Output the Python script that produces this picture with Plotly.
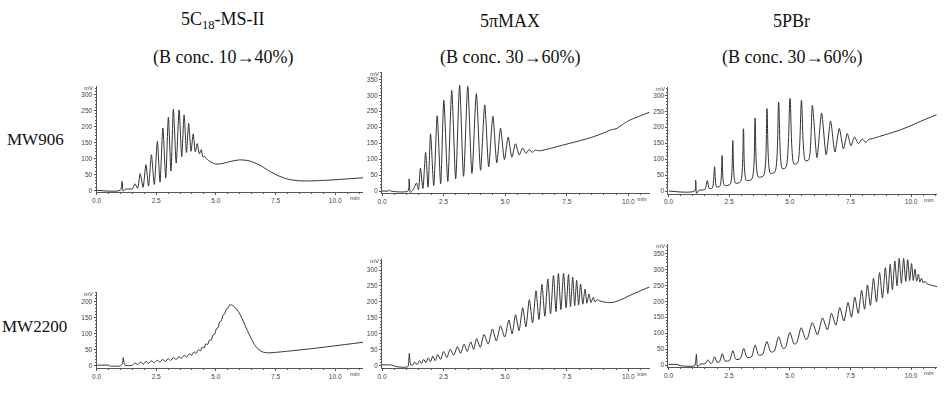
import plotly.graph_objects as go

# ---------------- DATA ----------------
col_titles = ["5C<sub>18</sub>-MS-II", "5πMAX", "5PBr"]
col_sub = ["(B conc. 10→40%)", "(B conc. 30→60%)", "(B conc. 30→60%)"]
row_labels = ["MW906", "MW2200"]
x_tickvals = [0, 2.5, 5, 7.5, 10]
x_ticktext = ["0.0", "2.5", "5.0", "7.5", "10.0"]

# --- MW906 / 5C18-MS-II ---
c18_906_pre_t = [0, 1.00, 1.07, 1.12, 1.20, 1.40]
c18_906_pre_mv = [0, 0, 28, -3, 3, 4]
c18_906_peak_t = [1.61, 1.83, 2.07, 2.30, 2.55, 2.78, 3.01, 3.22, 3.46, 3.67, 3.86, 4.05, 4.22, 4.39, 4.53]
c18_906_peak_mv = [20, 52, 80, 111, 153, 195, 229, 254, 252, 236, 210, 176, 146, 127, 106]
c18_906_val_t = [1.50, 1.72, 1.95, 2.18, 2.42, 2.66, 2.90, 3.12, 3.34, 3.57, 3.77, 3.96, 4.14, 4.31, 4.46]
c18_906_val_mv = [4, 6, 9, 13, 18, 25, 38, 60, 85, 105, 118, 122, 120, 114, 104]
c18_906_post_t = [4.62, 4.8, 5.0, 5.3, 5.6, 6.0, 6.4, 6.8, 7.2, 7.6, 8.0, 8.4, 8.8, 9.6, 10.4, 11.17]
c18_906_post_mv = [98, 88, 82, 84, 90, 95, 92, 80, 62, 46, 35, 30, 29, 31, 35, 39]

# --- MW906 / 5piMAX ---
pi_906_pre_t = [0, 0.25, 0.30, 0.35, 1.05, 1.10, 1.15, 1.25]
pi_906_pre_mv = [0, 0, 3, 0, 0, 38, -4, 2]
pi_906_peak_t = [1.40, 1.56, 1.77, 1.97, 2.24, 2.51, 2.83, 3.15, 3.48, 3.83, 4.17, 4.50, 4.81, 5.12, 5.42, 5.71, 5.97, 6.22]
pi_906_peak_mv = [25, 72, 121, 179, 236, 284, 315, 331, 328, 305, 270, 234, 197, 169, 148, 135, 130, 128]
pi_906_val_t = [1.48, 1.66, 1.87, 2.10, 2.38, 2.67, 2.99, 3.31, 3.65, 4.00, 4.33, 4.66, 4.97, 5.27, 5.57, 5.84, 6.10]
pi_906_val_mv = [4, 8, 12, 17, 23, 30, 38, 46, 55, 65, 76, 88, 98, 106, 113, 118, 121]
pi_906_post_t = [6.4, 6.8, 7.2, 7.6, 8.0, 8.5, 9.0, 9.3, 9.5, 9.7, 10.0, 10.4, 10.86]
pi_906_post_mv = [126, 133, 141, 149, 157, 168, 182, 192, 195, 205, 220, 233, 247]

# --- MW906 / 5PBr ---
pbr_906_pre_t = [0, 1.08, 1.12, 1.16, 1.25]
pbr_906_pre_mv = [0, 0, 34, -8, 2]
pbr_906_peak_t = [1.60, 1.90, 2.21, 2.65, 3.09, 3.57, 4.06, 4.54, 5.01, 5.48, 5.93, 6.31, 6.68, 7.04, 7.37, 7.67, 7.98, 8.25]
pbr_906_peak_mv = [33, 76, 111, 158, 195, 229, 258, 279, 290, 284, 268, 244, 219, 196, 180, 169, 163, 161]
pbr_906_val_t = [1.50, 1.68, 1.81, 1.98, 2.12, 2.30, 2.54, 2.76, 2.97, 3.21, 3.44, 3.70, 3.92, 4.20,
                 4.39, 4.69, 4.84, 5.17, 5.32, 5.64, 5.78, 6.12, 6.50, 6.86, 7.21, 7.52, 7.83, 8.12]
pbr_906_val_mv = [5, 8, 10, 13, 15, 18, 21, 25, 29, 33, 38, 44, 48, 55,
                  60, 70, 74, 85, 88, 95, 98, 105, 113, 122, 132, 142, 148, 153]
pbr_906_post_t = [8.45, 8.7, 9.0, 9.5, 10.0, 10.5, 11.05]
pbr_906_post_mv = [165, 171, 178, 190, 205, 222, 239]

# --- MW2200 / 5C18-MS-II ---
c18_2200_pre_t = [0, 0.5, 0.55, 1.0, 1.08, 1.12, 1.18, 1.3]
c18_2200_pre_mv = [1, 1, -1, -1, 5, 25, 2, 0]
c18_2200_peak_t = [1.60, 1.84, 2.07, 2.30, 2.54, 2.77, 3.00, 3.22, 3.45, 3.67, 3.88, 4.08, 4.26, 4.43, 4.58,
                   4.73, 4.88, 5.02, 5.16, 5.30, 5.44, 5.57]
c18_2200_peak_mv = [8, 11, 13, 15, 17, 19, 22, 25, 28, 32, 37, 43, 50, 58, 68, 80, 96, 115, 137, 158, 177, 190]
c18_2200_val_t = [1.50, 1.72, 1.96, 2.18, 2.42, 2.66, 2.89, 3.11, 3.34, 3.56, 3.78, 3.98, 4.17, 4.35, 4.51,
                  4.66, 4.81, 4.95, 5.09, 5.23, 5.37, 5.51]
c18_2200_val_mv = [1, 3, 5, 7, 9, 11, 13, 16, 19, 23, 27, 32, 38, 46, 55, 66, 80, 98, 118, 140, 162, 180]
c18_2200_post_t = [5.65, 5.75, 5.9, 6.05, 6.2, 6.35, 6.5, 6.65, 6.8, 6.95, 7.2, 8.0, 9.0, 10.0, 11.17]
c18_2200_post_mv = [190, 186, 174, 155, 130, 105, 82, 62, 50, 43, 40, 45, 53, 62, 73]

# --- MW2200 / 5piMAX ---
pi_2200_pre_t = [0, 0.4, 0.6, 1.05, 1.08, 1.11, 1.16, 1.22]
pi_2200_pre_mv = [3, 2, -3, -3, 10, 39, 3, 3]
pi_2200_peak_t = [1.32, 1.52, 1.69, 1.88, 2.06, 2.26, 2.50, 2.77, 3.06, 3.33, 3.60, 3.84, 4.14, 4.48, 4.81, 5.15,
                  5.42, 5.71, 5.98, 6.25, 6.49, 6.73, 6.96, 7.16, 7.37, 7.57, 7.74, 7.90, 8.06, 8.24, 8.40, 8.57, 8.73]
pi_2200_peak_mv = [12, 16, 20, 25, 30, 35, 45, 52, 60, 68, 75, 85, 98, 115, 125, 143,
                   160, 182, 207, 235, 255, 272, 283, 289, 290, 286, 278, 268, 256, 240, 225, 214, 207]
pi_2200_val_t = [1.25, 1.42, 1.60, 1.78, 1.97, 2.16, 2.38, 2.63, 2.91, 3.19, 3.46, 3.72, 3.99, 4.31, 4.64, 4.98,
                 5.28, 5.56, 5.84, 6.11, 6.37, 6.61, 6.84, 7.06, 7.26, 7.47, 7.65, 7.82, 7.98, 8.15, 8.32, 8.48, 8.65]
pi_2200_val_mv = [2, 4, 7, 10, 13, 16, 20, 26, 33, 39, 45, 51, 58, 68, 78, 90,
                  100, 110, 122, 134, 145, 155, 163, 170, 176, 181, 185, 188, 190, 193, 196, 198, 200]
pi_2200_post_t = [8.85, 9.0, 9.2, 9.4, 9.7, 10.0, 10.4, 10.86]
pi_2200_post_mv = [203, 200, 198, 199, 207, 218, 232, 247]

# --- MW2200 / 5PBr ---
pbr_2200_pre_t = [0, 0.35, 0.5, 1.08, 1.12, 1.15, 1.20, 1.30]
pbr_2200_pre_mv = [2, 2, -2, -2, 10, 34, -5, 3]
pbr_2200_peak_t = [1.62, 1.90, 2.22, 2.65, 3.10, 3.57, 4.05, 4.54, 5.00, 5.47, 5.93, 6.35, 6.72, 7.06, 7.40, 7.68,
                   7.96, 8.20, 8.45, 8.70, 8.94, 9.14, 9.33, 9.51, 9.69, 9.86, 10.02, 10.16, 10.30, 10.43, 10.57]
pbr_2200_peak_mv = [16, 26, 36, 45, 52, 63, 74, 89, 102, 117, 133, 148, 162, 180, 196, 213,
                    234, 251, 272, 290, 305, 316, 326, 334, 334, 330, 318, 300, 285, 272, 263]
pbr_2200_val_t = [1.50, 1.72, 1.80, 2.00, 2.10, 2.33, 2.52, 2.78, 2.96, 3.24, 3.42, 3.72, 3.88, 4.22, 4.36, 4.72,
                  4.82, 5.18, 5.28, 5.66, 5.72, 6.14, 6.55, 6.90, 7.23, 7.54, 7.82, 8.08, 8.32, 8.57, 8.82,
                  9.04, 9.23, 9.42, 9.60, 9.78, 9.94, 10.09, 10.23, 10.36, 10.50]
pbr_2200_val_mv = [4, 6, 7, 9, 10, 13, 15, 18, 20, 24, 26, 31, 34, 41, 44, 52,
                   55, 66, 69, 80, 82, 95, 110, 125, 138, 150, 162, 175, 187, 198, 210,
                   224, 236, 248, 256, 262, 265, 265, 263, 260, 257]
pbr_2200_post_t = [10.65, 10.8, 10.95, 11.09]
pbr_2200_post_mv = [255, 251, 248, 245]

series = [
    (c18_906_pre_t, c18_906_pre_mv, c18_906_peak_t, c18_906_peak_mv, c18_906_val_t, c18_906_val_mv, c18_906_post_t, c18_906_post_mv),
    (pi_906_pre_t, pi_906_pre_mv, pi_906_peak_t, pi_906_peak_mv, pi_906_val_t, pi_906_val_mv, pi_906_post_t, pi_906_post_mv),
    (pbr_906_pre_t, pbr_906_pre_mv, pbr_906_peak_t, pbr_906_peak_mv, pbr_906_val_t, pbr_906_val_mv, pbr_906_post_t, pbr_906_post_mv),
    (c18_2200_pre_t, c18_2200_pre_mv, c18_2200_peak_t, c18_2200_peak_mv, c18_2200_val_t, c18_2200_val_mv, c18_2200_post_t, c18_2200_post_mv),
    (pi_2200_pre_t, pi_2200_pre_mv, pi_2200_peak_t, pi_2200_peak_mv, pi_2200_val_t, pi_2200_val_mv, pi_2200_post_t, pi_2200_post_mv),
    (pbr_2200_pre_t, pbr_2200_pre_mv, pbr_2200_peak_t, pbr_2200_peak_mv, pbr_2200_val_t, pbr_2200_val_mv, pbr_2200_post_t, pbr_2200_post_mv),
]

# ---------------- LAYOUT (pixel geometry) ----------------
W, H = 950, 399
SCALE = 0.32  # px per mV
# (x-left px, x-right px, x max (min), y zero px, y min, y max, top tick)
geo = [
    (92, 360, 11.17, 190.7, -7, 325, 300),
    (379, 648, 10.86, 191.5, -7, 372, 350),
    (667, 937, 11.07, 191.5, -8, 325, 300),
    (92, 360, 11.17, 366.5, -7, 232, 200),
    (379, 648, 10.86, 366.7, -7, 333, 300),
    (667, 937, 11.07, 366.0, -7, 378, 350),
]

SERIF = "Liberation Serif, Times New Roman, serif"
SANS = "Liberation Sans, Arial, sans-serif"
AX_COL = "#555555"
TXT_COL = "#444444"

fig = go.Figure()
layout = {}
annotations = []

for i, (s, g) in enumerate(zip(series, geo)):
    pre_t, pre_mv, pk_t, pk_mv, v_t, v_mv, post_t, post_mv = s
    pts = sorted(list(zip(pre_t, pre_mv)) + list(zip(pk_t, pk_mv)) + list(zip(v_t, v_mv)) + list(zip(post_t, post_mv)))
    tx = [p[0] for p in pts]
    ty = [p[1] for p in pts]
    n = "" if i == 0 else str(i + 1)
    fig.add_trace(go.Scatter(x=tx, y=ty, mode="lines", xaxis="x" + n, yaxis="y" + n,
                             line=dict(color="#333333", width=1, shape="spline", smoothing=0.7),
                             showlegend=False, hoverinfo="skip"))
    xl, xr, xmax, y0, ymin, ymax, ytop = g
    ybot_px = y0 - ymin * SCALE
    ytop_px = y0 - ymax * SCALE
    layout["xaxis" + n] = dict(
        domain=[xl / W, xr / W], range=[0, xmax], anchor="y" + n,
        showline=True, linecolor=AX_COL, linewidth=1, showgrid=False, zeroline=False,
        ticks="outside", ticklen=2, tickcolor=AX_COL, tickwidth=1,
        tickvals=x_tickvals, ticktext=x_ticktext,
        tickfont=dict(family=SANS, size=6.5, color=TXT_COL),
        minor=dict(dtick=0.5, ticks="outside", ticklen=1, tickcolor=AX_COL),
        fixedrange=True,
    )
    layout["yaxis" + n] = dict(
        domain=[1 - ybot_px / H, 1 - ytop_px / H], range=[ymin, ymax], anchor="x" + n,
        showline=True, linecolor=AX_COL, linewidth=1, showgrid=False, zeroline=False,
        ticks="outside", ticklen=2, tickcolor=AX_COL, tickwidth=1,
        tickvals=list(range(0, ytop + 1, 50)),
        tickfont=dict(family=SANS, size=6.5, color=TXT_COL),
        minor=dict(dtick=10, ticks="outside", ticklen=1, tickcolor=AX_COL),
        fixedrange=True,
    )
    annotations.append(dict(text="mV", xref="paper", yref="paper", x=(xl - 8) / W, y=1 - (ytop_px + 2) / H,
                            showarrow=False, xanchor="center", yanchor="middle",
                            font=dict(family=SANS, size=6, color=TXT_COL)))
    annotations.append(dict(text="min", xref="paper", yref="paper", x=(xr - 8) / W, y=1 - (ybot_px + 6) / H,
                            showarrow=False, xanchor="center", yanchor="middle",
                            font=dict(family=SANS, size=6, color=TXT_COL)))

title_x = [219, 508, 791]
for cx, t1, t2 in zip(title_x, col_titles, col_sub):
    annotations.append(dict(text=t1, xref="paper", yref="paper", x=cx / W, y=1 - 21 / H, showarrow=False,
                            xanchor="center", yanchor="middle", font=dict(family=SERIF, size=18, color="#111111")))
    annotations.append(dict(text=t2, xref="paper", yref="paper", x=cx / W, y=1 - 58 / H, showarrow=False,
                            xanchor="center", yanchor="middle", font=dict(family=SERIF, size=18, color="#111111")))

row_y = [140, 327]
row_x = [31, 30]
for rx, ry, lab in zip(row_x, row_y, row_labels):
    annotations.append(dict(text=lab, xref="paper", yref="paper", x=rx / W, y=1 - ry / H, showarrow=False,
                            xanchor="center", yanchor="middle", font=dict(family=SERIF, size=17, color="#111111")))

fig.update_layout(
    width=W, height=H, margin=dict(l=0, r=0, t=0, b=0),
    paper_bgcolor="white", plot_bgcolor="white",
    annotations=annotations, **layout
)

fig.write_html("out.html", config={"displayModeBar": False, "staticPlot": True},
               post_script="document.body.style.margin='0px';document.body.style.overflow='hidden';")
